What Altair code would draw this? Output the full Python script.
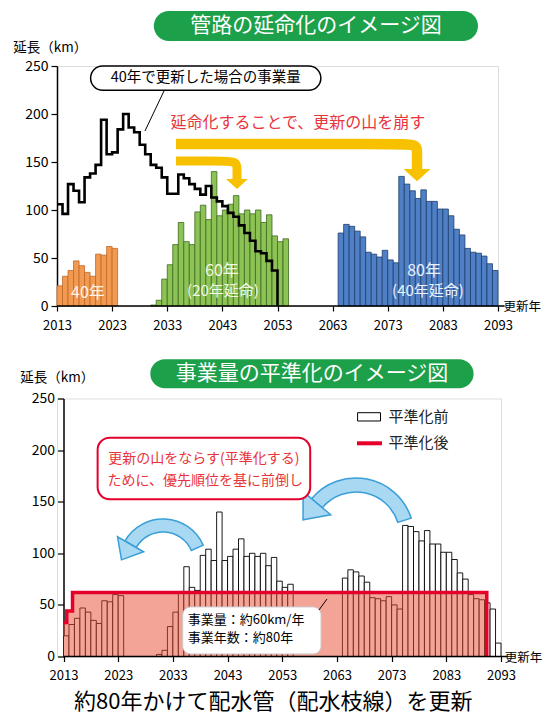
import altair as alt
import pandas as pd

FONT = "Noto Sans CJK JP"

# ---------------- data ----------------
x_ticks = [2013, 2023, 2033, 2043, 2053, 2063, 2073, 2083, 2093]
y_ticks = [0, 50, 100, 150, 200, 250]

# upper chart: renewal volume by life span
orange_years = list(range(2013, 2024))
orange_vals = [21, 31, 37, 47, 42, 35, 31, 54, 53, 62, 60]
green_years = list(range(2030, 2055))
green_vals = [1, 6, 28, 43, 64, 87, 67, 64, 98, 105, 90, 140, 94, 100, 106,
              115, 96, 100, 96, 100, 87, 95, 73, 67, 70]
blue_years = list(range(2064, 2093))
blue_vals = [76, 85, 83, 78, 72, 56, 54, 51, 58, 48, 45, 135, 127, 120, 112,
             121, 109, 109, 101, 101, 94, 80, 74, 60, 56, 55, 52, 44, 37]

# 40-year renewal volume (step line)
step_years = list(range(2013, 2054))
step_vals = [106, 96, 127, 120, 108, 134, 138, 147, 194, 158,
             160, 184, 200, 186, 181, 168, 158, 147, 144, 134,
             117, 117, 137, 133, 127, 122, 116, 125, 113, 109,
             104, 97, 93, 84, 76, 68, 57, 55, 47, 37, 0]

# lower chart: before levelling
low_orange_vals = [20, 31, 37, 47, 43, 35, 32, 54, 53, 60, 59]
low_green_vals = [2, 6, 29, 43, 62, 87, 67, 64, 98, 104, 93, 140, 93, 97, 104,
                  114, 97, 100, 97, 100, 88, 96, 73, 67, 70]
low_blue_vals = [76, 84, 82, 78, 72, 57, 56, 54, 58, 50, 46, 127, 126, 121, 112,
                 122, 109, 109, 101, 101, 94, 81, 75, 60, 56, 55, 52, 46, 13]

# after levelling (step outline)
level_x = [2013, 2013.6, 2014.65, 2090.4]
level_vals = [33, 44, 62, 0]

# ---------------- helpers ----------------
XT = alt.Scale(domain=[2013, 2093], nice=False, zero=False)
YT = alt.Scale(domain=[0, 250], nice=False)
XB = alt.Scale(domain=[2011.81, 2093], nice=False, zero=False)
YB = alt.Scale(domain=[0, 250], nice=False)

ax_x = alt.Axis(values=x_ticks, format="d", domain=False, tickSize=5, labelPadding=8,
                labelFontSize=13, labelFlush=False, grid=False, tickWidth=1.2)
ax_yt = alt.Axis(values=y_ticks, tickSize=6, labelPadding=3, labelFontSize=14,
                 domainWidth=1.5, tickWidth=1.2, grid=False)
ax_yb = alt.Axis(values=y_ticks, tickSize=6, labelPadding=3, labelFontSize=14,
                 domainWidth=1.5, tickWidth=1.2, grid=False, offset=-6.5)


def enc(top, **extra):
    xs, ys = (XT, YT) if top else (XB, YB)
    ay = ax_yt if top else ax_yb
    e = dict(x=alt.X("x:Q", scale=xs, axis=ax_x, title=""),
             y=alt.Y("y:Q", scale=ys, axis=ay, title=""))
    e.update(extra)
    return e


def df1(**cols):
    return pd.DataFrame({k: (v if isinstance(v, list) else [v]) for k, v in cols.items()})


def text(top, x, y, t, **kw):
    return alt.Chart(df1(x=x, y=y, t=t)).mark_text(font=FONT, **kw).encode(**enc(top, text="t:N"))


def box(top, x, x2, y, y2, **kw):
    return alt.Chart(df1(x=x, x2=x2, y=y, y2=y2)).mark_rect(**kw).encode(
        **enc(top, x2="x2:Q", y2="y2:Q"))


def seg(top, x, x2, y, y2, **kw):
    return alt.Chart(df1(x=x, x2=x2, y=y, y2=y2)).mark_rule(**kw).encode(
        **enc(top, x2="x2:Q", y2="y2:Q"))


def bars_frame(groups):
    rows = []
    for name, yrs, vals in groups:
        for yy, v in zip(yrs, vals):
            rows.append({"x": yy, "x2": yy + 1, "y": v, "y2": 0, "period": name})
    return pd.DataFrame(rows)


# ---------------- upper chart ----------------
top_bars_df = bars_frame([("40", orange_years, orange_vals),
                          ("60", green_years, green_vals),
                          ("80", blue_years, blue_vals)])
periods = ["40", "60", "80"]
top_bars = alt.Chart(top_bars_df).mark_rect(strokeWidth=0.8).encode(**enc(
    True, x2="x2:Q", y2="y2:Q",
    fill=alt.Fill("period:N", scale=alt.Scale(domain=periods, range=["#F29B50", "#8DC255", "#4F80C6"]), legend=None),
    stroke=alt.Stroke("period:N", scale=alt.Scale(domain=periods, range=["#C0672B", "#3E6B1E", "#1D3C6C"]), legend=None),
))

step_line = alt.Chart(pd.DataFrame({"x": step_years, "y": step_vals})).mark_line(
    interpolate="step-after", color="black", strokeWidth=2.6).encode(**enc(True))

YEL = "#F7C100"
arrowA = alt.Chart(pd.DataFrame({"x": [2034.59, 2074.5, 2078.31, 2078.31, 2078.31],
                                 "y": [168.75, 168.75, 168.75, 160, 142.7],
                                 "i": [0, 1, 2, 3, 4]})).mark_line(
    interpolate="basis", color=YEL, strokeWidth=10.5, strokeCap="butt").encode(
    **enc(True, order="i:Q"))
arrowB = alt.Chart(pd.DataFrame({"x": [2034.59, 2042.0, 2045.65, 2045.65, 2045.65],
                                 "y": [151, 151, 151, 143, 132.3],
                                 "i": [0, 1, 2, 3, 4]})).mark_line(
    interpolate="basis", color=YEL, strokeWidth=9, strokeCap="butt").encode(
    **enc(True, order="i:Q"))
headA = alt.Chart(df1(x=2078.31, y=142.7)).mark_point(
    shape="M-1,0L1,0L0,0.9Z", size=729, filled=True, color=YEL, opacity=1).encode(**enc(True))
headB = alt.Chart(df1(x=2045.65, y=132.3)).mark_point(
    shape="M-1,0L1,0L0,0.9Z", size=484, filled=True, color=YEL, opacity=1).encode(**enc(True))

top_layers = [
    top_bars,
    step_line,
    box(True, 2019.10, 2060.86, 250.0, 224.7, fill="white", stroke="black", strokeWidth=1.5, cornerRadius=12),
    seg(True, 2032.41, 2028.96, 223.96, 182.3, color="black", strokeWidth=1),
    text(True, 2039.97, 237.3, "40年で更新した場合の事業量", fontSize=14.5, color="black"),
    text(True, 2056.70, 190.9, "延命化することで、更新の山を崩す", fontSize=16, color="#E8333A"),
    arrowA, arrowB, headA, headB,
    text(True, 2018.62, 13.85, "40年", fontSize=16, color="#FFF3E6"),
    text(True, 2042.93, 36.46, "60年", fontSize=16, color="#F0F8E6"),
    text(True, 2043.11, 15.6, "(20年延命)", fontSize=15, color="#F0F8E6"),
    text(True, 2079.58, 36.46, "80年", fontSize=16, color="#EAF2FC"),
    text(True, 2080.30, 15.6, "(40年延命)", fontSize=15, color="#EAF2FC"),
    box(True, 2030.56, 2089.37, 307.3, 276.0, fill="#1DA04A", cornerRadius=15),
    text(True, 2059.98, 291.7, "管路の延命化のイメージ図", fontSize=21, color="white"),
    text(True, 2005.07, 269.1, "延長（km）", fontSize=13.5, align="left", color="black"),
    text(True, 2094.00, -1.0, "更新年度", fontSize=12.5, align="left", color="black",
         limit=38, ellipsis="\u200b"),
    seg(True, 2013, 2094.2, 0, 0, color="black", strokeWidth=1.5),
]
top = alt.layer(*top_layers).properties(width=441, height=240)

# ---------------- lower chart ----------------
low_bars_df = bars_frame([("40", orange_years, low_orange_vals),
                          ("60", green_years, low_green_vals),
                          ("80", blue_years, low_blue_vals)])
low_bars = alt.Chart(low_bars_df).mark_rect(fill="white", stroke="black", strokeWidth=0.9).encode(
    **enc(False, x2="x2:Q", y2="y2:Q"))

level_df = pd.DataFrame({"x": level_x, "y": level_vals})
level_area = alt.Chart(level_df).mark_area(interpolate="step-after", color="#E8492F", opacity=0.5).encode(**enc(False))
level_line = alt.Chart(level_df).mark_line(interpolate="step-after", color="#E4002B", strokeWidth=3.5).encode(**enc(False))

ARC_FILL = "#A8D8F2"
ARC_STROKE = "#3A9FD8"
arc_small = alt.Chart(df1(x=2031.19, y=90.60)).mark_arc(
    theta=5.236, theta2=7.435, radius=44, radius2=31, fill=ARC_FILL, stroke=ARC_STROKE, strokeWidth=1.5
).encode(**enc(False))
head_small = alt.Chart(df1(x=2025.25, y=108.77)).mark_point(
    shape="M-1,0L1,0L0,-1.2Z", size=900, angle=210, filled=True, fill=ARC_FILL, stroke=ARC_STROKE,
    strokeWidth=1.5, opacity=1).encode(**enc(False))
arc_big = alt.Chart(df1(x=2066.49, y=116.76)).mark_arc(
    theta=5.411, theta2=7.540, radius=58, radius2=44, fill=ARC_FILL, stroke=ARC_STROKE, strokeWidth=1.5
).encode(**enc(False))
head_big = alt.Chart(df1(x=2059.34, y=148.55)).mark_point(
    shape="M-1,0L1,0L0,-1.2Z", size=1296, angle=220, filled=True, fill=ARC_FILL, stroke=ARC_STROKE,
    strokeWidth=1.5, opacity=1).encode(**enc(False))

low_layers = [
    low_bars,
    level_area,
    level_line,
    arc_small, head_small, arc_big, head_big,
    box(False, 2019.24, 2058.11, 212.02, 152.33, fill="white", stroke="#E4002B", strokeWidth=2, cornerRadius=12),
    text(False, 2038.66, 191.09, "更新の山をならす(平準化する)", fontSize=14, color="#E8333A"),
    text(False, 2038.92, 170.06, "ために、優先順位を基に前倒し", fontSize=14, color="#E8333A"),
    box(False, 2034.80, 2060.09, 48.0, 2.5, fill="white", stroke="#CCCCCC", strokeWidth=1, cornerRadius=8),
    text(False, 2035.71, 35.0, "事業量：約60km/年", fontSize=13, align="left", color="black"),
    text(False, 2035.71, 18.2, "事業年数：約80年", fontSize=13, align="left", color="black"),
    seg(False, 2059.72, 2061.18, 45.06, 55.72, color="black", strokeWidth=1),
    box(False, 2066.78, 2070.97, 236.24, 228.2, fill="white", stroke="black", strokeWidth=1),
    text(False, 2072.45, 232.07, "平準化前", fontSize=15, align="left", color="#222222"),
    seg(False, 2066.67, 2071.24, 206.59, 206.59, color="#E4002B", strokeWidth=4),
    text(False, 2072.45, 206.88, "平準化後", fontSize=15, align="left", color="#222222"),
    box(False, 2028.87, 2087.99, 287.98, 259.88, fill="#1DA04A", cornerRadius=15),
    text(False, 2058.44, 273.93, "事業量の平準化のイメージ図", fontSize=21, color="white"),
    text(False, 2005.10, 270.16, "延長（km）", fontSize=13.5, align="left", color="black"),
    text(False, 2093.70, -1.45, "更新年度", fontSize=12.5, align="left", color="black",
         limit=38, ellipsis="\u200b"),
    seg(False, 2013, 2094.2, 0, 0, color="black", strokeWidth=1.5),
    text(False, 2051.36, -44.3, "約80年かけて配水管（配水枝線）を更新", fontSize=22, color="black"),
]
bottom = alt.layer(*low_layers).properties(width=444, height=258)

chart = alt.vconcat(top, bottom, spacing=92.5, bounds="flush").properties(
    padding={"left": 4, "top": 2, "right": 0, "bottom": 0}
).configure_view(stroke=None).configure(font=FONT).configure_axis(
    labelFont=FONT, labelColor="black", domainColor="black", tickColor="black"
)

chart.save("out.html", embed_options={"renderer": "svg", "actions": False})
